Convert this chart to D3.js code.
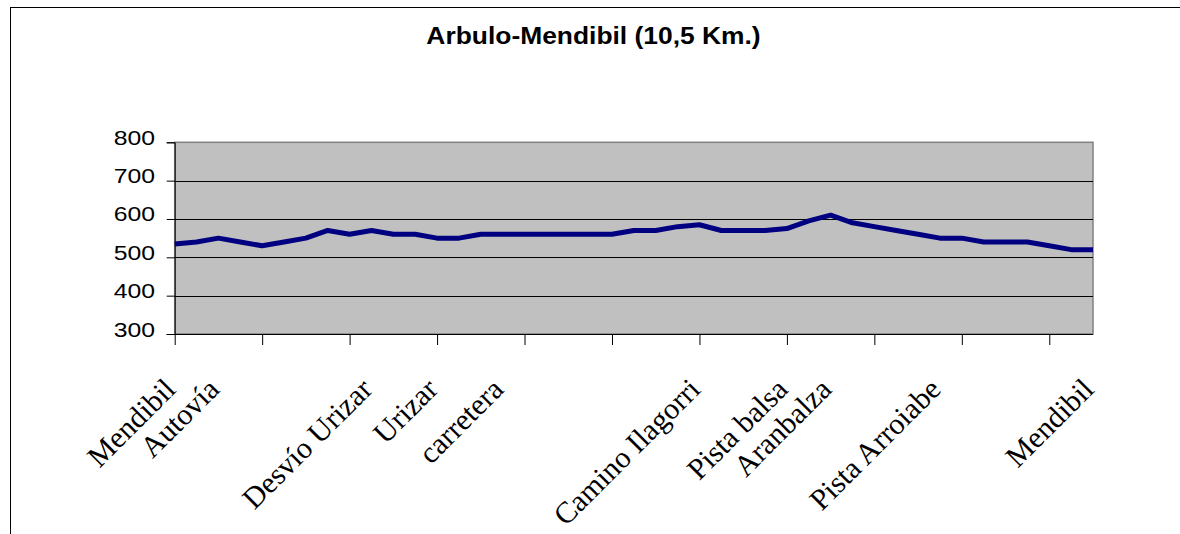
<!DOCTYPE html>
<html>
<head>
<meta charset="utf-8">
<script src="https://cdn.jsdelivr.net/npm/d3@7"></script>
<style>
  html, body { margin: 0; padding: 0; background: #ffffff; }
  svg { display: block; }
</style>
</head>
<body>
<svg id="chart" width="1180" height="534"></svg>
<script>
// ---- Data ----
const title = "Arbulo-Mendibil (10,5 Km.)";
const categories = [
  "Mendibil", "", "Autovía", "", "", "", "", "", "", "Desvío Urizar",
  "", "", "Urizar", "", "", "carretera", "", "", "", "",
  "", "", "", "", "Camino Ilagorri", "", "", "", "Pista balsa", "",
  "Aranbalza", "", "", "", "", "Pista Arroiabe", "", "", "", "",
  "", "", "Mendibil"
];
const altitude = [
  535, 540, 550, 540, 530, 540, 550, 570, 560, 570,
  560, 560, 550, 550, 560, 560, 560, 560, 560, 560,
  560, 570, 570, 580, 585, 570, 570, 570, 575, 595,
  610, 590, 580, 570, 560, 550, 550, 540, 540, 540,
  530, 520, 520
];
const yTicks = [300, 400, 500, 600, 700, 800];

// ---- Layout ----
const svg = d3.select("#chart");
const plot = { left: 174.7, right: 1093, top: 142.3, bottom: 334 };

// outer frame
svg.append("rect")
  .attr("x", 10.5).attr("y", 7.5)
  .attr("width", 1300).attr("height", 700)
  .attr("fill", "none").attr("stroke", "#000").attr("stroke-width", 1);

// title
svg.append("text")
  .attr("transform", "translate(593.5,43.5) scale(1.1,1)")
  .attr("text-anchor", "middle")
  .attr("font-family", "Liberation Sans, Arial, sans-serif")
  .attr("font-weight", "bold")
  .attr("font-size", 24)
  .text(title);

const x = d3.scalePoint()
  .domain(d3.range(categories.length))
  .range([plot.left, plot.right]);
const y = d3.scaleLinear().domain([300, 800]).range([plot.bottom, plot.top]);

// plot background
svg.append("rect")
  .attr("x", plot.left).attr("y", plot.top)
  .attr("width", plot.right - plot.left).attr("height", plot.bottom - plot.top)
  .attr("fill", "#C0C0C0")
  .attr("stroke", "#808080").attr("stroke-width", 1.5);

// gridlines
svg.append("g").selectAll("line")
  .data(yTicks.filter(v => v !== 300 && v !== 800))
  .join("line")
  .attr("x1", plot.left).attr("x2", plot.right)
  .attr("y1", d => Math.round(y(d)) + 0.5).attr("y2", d => Math.round(y(d)) + 0.5)
  .attr("stroke", "#000").attr("stroke-width", 1);

// y axis (ticks via d3 axis, labels drawn stretched like the original)
const yAxis = d3.axisLeft(y).tickValues(yTicks).tickSize(8).tickFormat("");
const gy = svg.append("g").attr("transform", `translate(${plot.left},0)`).call(yAxis);
gy.select(".domain").attr("stroke", "#000");
gy.selectAll(".tick line").attr("stroke", "#000");

svg.append("g").selectAll("text")
  .data(yTicks)
  .join("text")
  .attr("transform", d => `translate(155,${y(d) + 2.5}) scale(1.18,1)`)
  .attr("text-anchor", "end")
  .attr("font-family", "Liberation Sans, Arial, sans-serif")
  .attr("font-size", 21)
  .attr("fill", "#000")
  .text(d => d);

// x axis (ticks every 4 categories)
const tickIdx = d3.range(0, categories.length, 4);
const xAxis = d3.axisBottom(x).tickValues(tickIdx).tickSize(11).tickFormat("");
const gx = svg.append("g").attr("transform", `translate(0,${plot.bottom})`).call(xAxis);
gx.select(".domain").attr("stroke", "#000").attr("d", `M${plot.left},0.5H${plot.right}`);
gx.selectAll(".tick line").attr("stroke", "#000");

// category labels (rotated)
svg.append("g").selectAll("text")
  .data(categories.map((c, i) => ({ c, i })).filter(d => d.c !== ""))
  .join("text")
  .attr("transform", d => `translate(${x(d.i) + 2.5},391) rotate(-45)`)
  .attr("text-anchor", "end")
  .attr("font-family", "Liberation Serif, Times New Roman, serif")
  .attr("font-size", 30)
  .attr("fill", "#000")
  .text(d => d.c);

// line
const line = d3.line().x((d, i) => x(i)).y(d => y(d));
svg.append("path")
  .datum(altitude)
  .attr("d", line)
  .attr("fill", "none")
  .attr("stroke", "#000080")
  .attr("stroke-width", 5)
  .attr("stroke-linejoin", "round");
</script>
</body>
</html>
